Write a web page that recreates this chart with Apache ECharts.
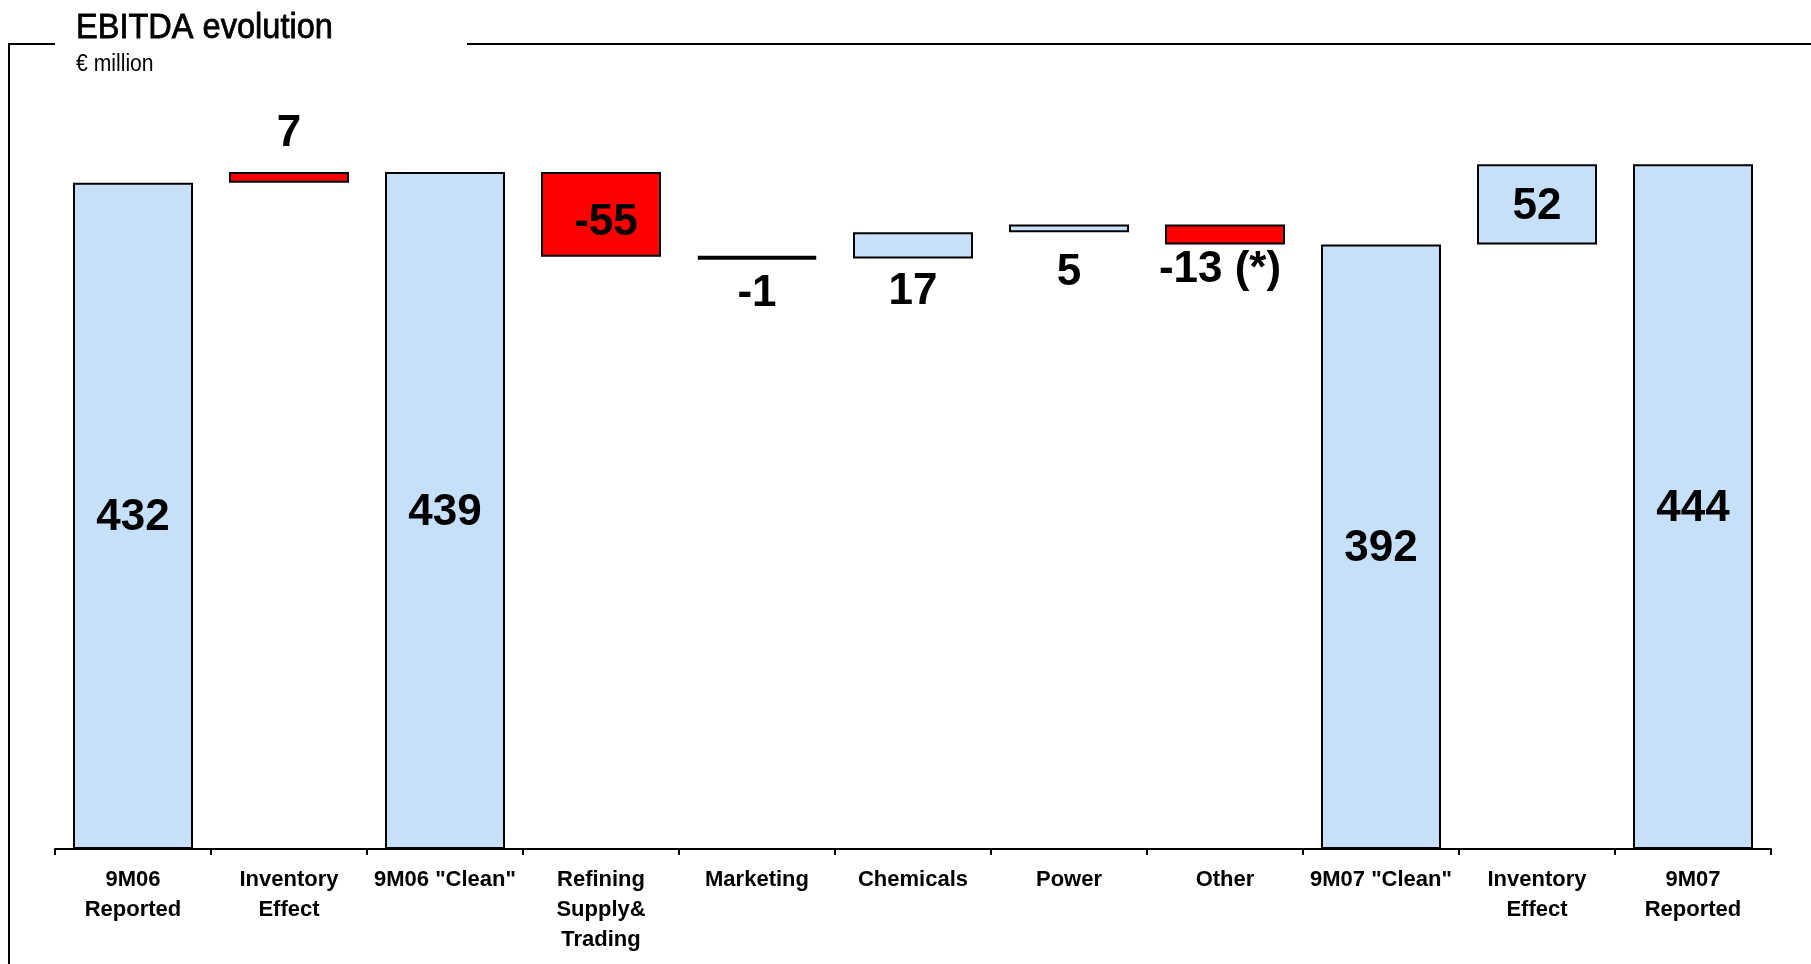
<!DOCTYPE html>
<html>
<head>
<meta charset="utf-8">
<title>EBITDA evolution</title>
<script src="https://cdn.jsdelivr.net/npm/echarts@6/dist/echarts.min.js"></script>
<style>
  html, body { margin: 0; padding: 0; background: #ffffff; }
  #chart { width: 1811px; height: 964px; }
</style>
</head>
<body>
<div id="chart"></div>
<script>
// Bridge categories (left to right)
const categories = [
  '9M06\nReported', 'Inventory\nEffect', '9M06 "Clean"', 'Refining\nSupply&\nTrading',
  'Marketing', 'Chemicals', 'Power', 'Other', '9M07 "Clean"', 'Inventory\nEffect', '9M07\nReported'
];
// 'total' bars start at zero, 'delta' bars float on the running total
const kinds = ['total', 'delta', 'total', 'delta', 'delta', 'delta', 'delta', 'delta', 'total', 'delta', 'total'];
// EBITDA values, € million
const values = [432, 7, 439, -55, -1, 17, 5, -13, 392, 52, 444];
// Footnote markers appended to the value labels
const notes = ['', '', '', '', '', '', '', ' (*)', '', '', ''];

// ---- styling ----
const BLUE = '#C6E0F9';
const RED = '#FF0000';
const barFill = [BLUE, RED, BLUE, RED, RED, BLUE, BLUE, RED, BLUE, BLUE, BLUE];
const barBorder = [2, 2, 2, 2, 4, 2, 2, 2, 2, 2, 2];
const labelPlace = ['inside', 'top', 'inside', 'inside', 'bottom', 'bottom', 'bottom', 'bottom', 'inside', 'inside', 'inside'];
const labelGap = [0, 16, 0, 0, 12, 11, 19, 3, 0, 0, 0];
const labelShift = [[0, 2], [0, 0], [0, 2], [5, 8], [0, 0], [0, 0], [0, 0], [-5, 0], [0, 2], [0, 2], [0, 2]];

// Build invisible bases and visible segments from the running total
const bases = [];
const heights = [];
let running = 0;
values.forEach((v, i) => {
  if (kinds[i] === 'total') {
    bases.push(0);
    heights.push(v);
    running = v;
  } else if (v >= 0) {
    bases.push(running);
    heights.push(v);
    running += v;
  } else {
    running += v;
    bases.push(running);
    heights.push(-v);
  }
});

const visibleData = heights.map((h, i) => ({
  value: h,
  itemStyle: { color: barFill[i], borderWidth: barBorder[i] },
  label: {
    position: labelPlace[i],
    distance: labelGap[i],
    offset: labelShift[i],
    formatter: () => String(values[i]) + notes[i]
  }
}));

const chart = echarts.init(document.getElementById('chart'), null, { renderer: 'canvas' });

chart.setOption({
  animation: false,
  backgroundColor: '#ffffff',
  grid: { left: 55, right: 40, top: 78, bottom: 115, containLabel: false },
  xAxis: {
    type: 'category',
    data: categories,
    axisLine: { show: true, lineStyle: { color: '#000', width: 2 } },
    axisTick: { show: true, length: 6, lineStyle: { color: '#000', width: 2 } },
    axisLabel: {
      interval: 0,
      margin: 16,
      color: '#000',
      fontFamily: 'Liberation Sans, Arial, sans-serif',
      fontWeight: 'bold',
      fontSize: 22,
      lineHeight: 30
    }
  },
  yAxis: {
    type: 'value',
    min: 0,
    max: 500,
    show: false,
    splitLine: { show: false }
  },
  series: [
    {
      name: 'base',
      type: 'bar',
      stack: 'bridge',
      barWidth: 120,
      silent: true,
      itemStyle: { color: 'rgba(0,0,0,0)', borderWidth: 0 },
      data: bases
    },
    {
      name: 'EBITDA',
      type: 'bar',
      stack: 'bridge',
      barWidth: 120,
      itemStyle: { borderColor: '#000', borderWidth: 2 },
      label: {
        show: true,
        color: '#000',
        fontFamily: 'Liberation Sans, Arial, sans-serif',
        fontWeight: 'bold',
        fontSize: 44,
        lineHeight: 44
      },
      data: visibleData
    }
  ],
  graphic: [
    // frame around the panel
    { type: 'polyline', shape: { points: [[55, 44], [9, 44], [9, 964]] },
      style: { stroke: '#000', lineWidth: 2, fill: null } },
    { type: 'line', shape: { x1: 467, y1: 44, x2: 1811, y2: 44 },
      style: { stroke: '#000', lineWidth: 2 } },
    // condensed heading and unit line
    { type: 'text', x: 76, y: 11, scaleX: 0.93,
      style: { text: 'EBITDA evolution', fill: '#000', stroke: '#000', lineWidth: 0.8,
        font: '35px "Liberation Sans", Arial, sans-serif' } },
    { type: 'text', x: 76, y: 53, scaleX: 0.92,
      style: { text: '€ million', fill: '#000',
        font: '23px "Liberation Sans", Arial, sans-serif' } }
  ]
});
</script>
</body>
</html>
